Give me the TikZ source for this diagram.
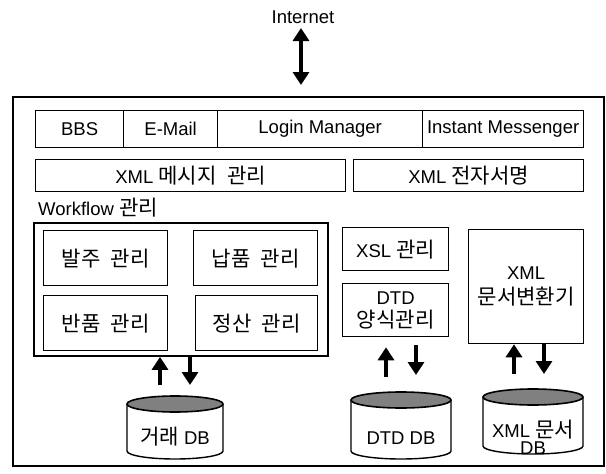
\documentclass[tikz,border=0pt]{standalone}
\usepackage{fontspec}
\setmainfont{Liberation Sans}
\newfontfamily\kr[Scale=1.14,WordSpace=2.2]{Noto Sans CJK KR}
\usetikzlibrary{arrows.meta}

\tikzset{
  box/.style={draw, line width=1.3pt, inner sep=0pt, anchor=north west, align=center,
              font=\fontsize{18.5}{22}\selectfont},
  txt/.style={inner sep=0pt, align=center, font=\fontsize{18.5}{20}\selectfont},
  arr/.style={line width=3.4pt, -{Triangle[width=16pt,length=13pt]}},
  biarr/.style={line width=3.4pt, {Triangle[width=16pt,length=13pt]}-{Triangle[width=16pt,length=13pt]}},
  cylside/.style={draw, line width=1.4pt, fill=white},
  cyltop/.style={draw, line width=1.6pt, fill=black!50}
}

\begin{document}
\begin{tikzpicture}[x=1pt,y=-1pt]
\useasboundingbox (0,0) rectangle (606,474);

% outside connection
\node[txt] (internet) at (303,17) {Internet};
\node[draw, line width=1.6pt, anchor=north west, minimum width=591pt, minimum height=369pt,
      inner sep=0pt] (system) at (12,96) {};
\coordinate (nettop) at (301,28);
\coordinate (netbot) at (301,85);
\draw[biarr] (nettop) -- (netbot);

% front-end services
\node[box, minimum width=88pt,  minimum height=37pt] (bbs)   at (35,110)  {BBS};
\node[box, minimum width=94pt,  minimum height=37pt] (email) at (123,110) {E-Mail};
\node[box, minimum width=205pt, minimum height=37pt] (login) at (217,110) {Login Manager};
\node[box, minimum width=161pt, minimum height=37pt] (im)    at (422,110) {Instant Messenger};

% XML layer
\node[box, minimum width=310pt, minimum height=32pt] (xmlmsg) at (35,159)  {XML {\kr 메시지 관리}};
\node[box, minimum width=230pt, minimum height=32pt] (xmlsig) at (353,159) {XML {\kr 전자서명}};

% workflow group
\node[txt, anchor=west] (wflabel) at (38,208) {Workflow {\kr 관리}};
\node[box, line width=1.9pt, minimum width=294pt, minimum height=133pt] (wf) at (33,222) {};
\node[box, minimum width=124pt, minimum height=55pt] (order)  at (43,230)  {\kr 발주 관리};
\node[box, minimum width=124pt, minimum height=55pt] (supply) at (193,230) {\kr 납품 관리};
\node[box, minimum width=124pt, minimum height=55pt] (return) at (43,295)  {\kr 반품 관리};
\node[box, minimum width=122pt, minimum height=55pt] (settle) at (195,295) {\kr 정산 관리};

% document handling
\node[box, minimum width=106pt, minimum height=43pt] (xsl)  at (342,227) {XSL {\kr 관리}};
\node[box, minimum width=106pt, minimum height=53pt] (dtd)  at (342,283) {DTD\\[1pt]{\kr 양식관리}};
\node[box, minimum width=115pt, minimum height=114pt] (conv) at (468,229) {XML\\[3pt]{\kr 문서변환기}};

% databases
\draw[cylside] (127,404) -- (127,451) arc[start angle=180,end angle=360,x radius=48pt,y radius=8pt] -- (223,404);
\draw[cyltop] (175,404) ellipse[x radius=48pt, y radius=8pt];
\node[txt] (db1) at (175,437) {{\kr 거래} DB};

\draw[cylside] (351,400) -- (351,451) arc[start angle=180,end angle=360,x radius=50pt,y radius=8pt] -- (451,400);
\draw[cyltop] (401,400) ellipse[x radius=50pt, y radius=8pt];
\node[txt] (db2) at (401,438) {DTD DB};

\draw[cylside] (483,397) -- (483,446) arc[start angle=180,end angle=360,x radius=50pt,y radius=8pt] -- (583,397);
\draw[cyltop] (533,397) ellipse[x radius=50pt, y radius=8pt];
\node[txt] (db3) at (533,437) {XML {\kr 문서}\\[-3pt]DB};

% arrow anchors above each database
\coordinate (db1in) at (175,385);
\coordinate (db2in) at (401,377);
\coordinate (db3in) at (529,374);

\draw[arr] ([xshift=-15pt]db1in) -- ([xshift=-15pt]db1in |- wf.south);
\draw[arr] ([xshift=15pt]db1in |- wf.south) -- ([xshift=15pt]db1in);

\draw[arr] ([xshift=-15pt]db2in) -- ([xshift=-15pt,yshift=-10pt]db2in |- dtd.south);
\draw[arr] ([xshift=15pt,yshift=-8pt]db2in |- dtd.south) -- ([xshift=15pt,yshift=2pt]db2in);

\draw[arr] ([xshift=-15pt]db3in) -- ([xshift=-15pt]db3in |- conv.south);
\draw[arr] ([xshift=15pt]db3in |- conv.south) -- ([xshift=15pt]db3in);
\end{tikzpicture}
\end{document}
